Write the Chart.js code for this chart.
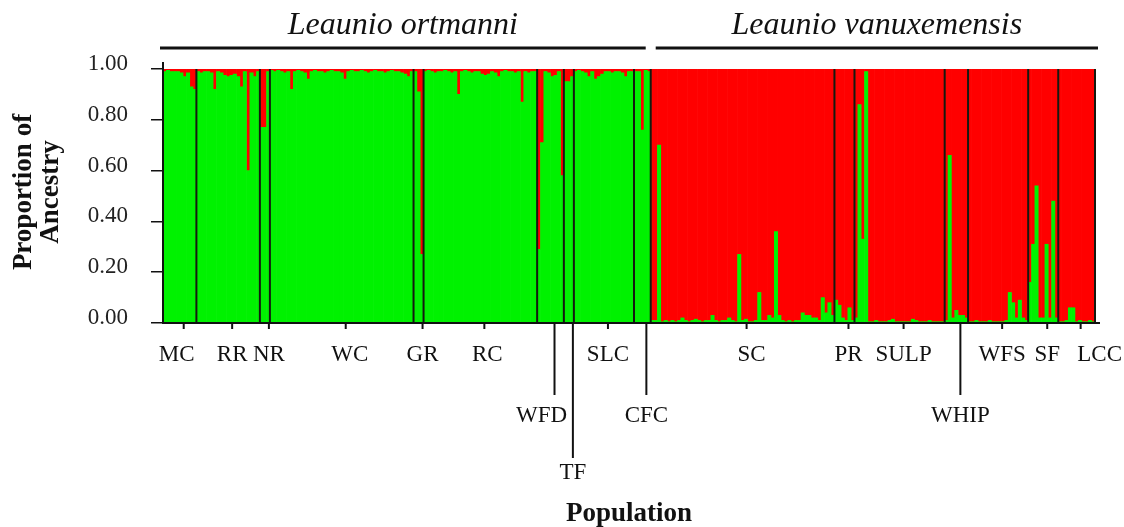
<!DOCTYPE html>
<html>
<head>
<meta charset="utf-8">
<script src="https://cdn.jsdelivr.net/npm/chart.js@4.4.1/dist/chart.umd.min.js"></script>
<style>
  html, body { margin: 0; padding: 0; background: #fff; }
  #wrap { width: 1124px; height: 527px; }
</style>
</head>
<body>
<div id="wrap"><canvas id="myChart" width="1124" height="527"></canvas></div>
<script>
// populations, left to right
const popNames = ["MC", "RR", "NR", "WC", "GR", "RC", "WFD", "TF", "SLC", "CFC",
                  "SC", "PR", "SULP", "WHIP", "WFS", "SF", "LCC"];

// proportion of ancestry in the green cluster, one value per individual
const mcGreen = [0.99, 0.995, 0.99, 0.99, 0.99, 0.985, 0.97, 0.985, 0.93, 0.92];
const rrGreen = [0.99, 0.985, 0.99, 0.99, 0.985, 0.92, 0.99, 0.985, 0.975, 0.97,
                 0.975, 0.98, 0.97, 0.93, 0.99, 0.60, 0.985, 0.97, 0.99];
const nrGreen = [0.77, 0.77, 0.99];
const wcGreen = [0.995, 0.99, 0.995, 0.99, 0.985, 0.99, 0.92, 0.99, 0.995, 0.99,
                 0.985, 0.96, 0.99, 0.995, 0.99, 0.99, 0.985, 0.99, 0.995, 0.99,
                 0.99, 0.985, 0.96, 0.99, 0.995, 0.99, 0.99, 0.995, 0.99, 0.985,
                 0.99, 0.995, 0.99, 0.99, 0.985, 0.99, 0.995, 0.99, 0.99, 0.985,
                 0.98, 0.97, 0.99];
const grGreen = [0.99, 0.91, 0.27];
const rcGreen = [0.99, 0.995, 0.99, 0.985, 0.99, 0.99, 0.995, 0.99, 0.985, 0.99,
                 0.90, 0.99, 0.995, 0.99, 0.985, 0.99, 0.99, 0.98, 0.975, 0.98,
                 0.99, 0.985, 0.97, 0.99, 0.995, 0.99, 0.99, 0.985, 0.99, 0.87,
                 0.99, 0.985, 0.99, 0.99];
const wfdGreen = [0.29, 0.71, 0.99, 0.985, 0.97, 0.975, 0.99, 0.58];
const tfGreen = [0.95, 0.95, 0.97];
const slcGreen = [0.99, 0.995, 0.99, 0.985, 0.97, 0.99, 0.96, 0.97, 0.98, 0.99,
                  0.99, 0.985, 0.99, 0.99, 0.985, 0.97, 0.99, 0.99];
const cfcGreen = [0.99, 0.99, 0.76, 0.995, 0.99];
const scGreen = [0.01, 0.01, 0.70, 0.005, 0.01, 0.005, 0.01, 0.005, 0.01, 0.02,
                 0.01, 0.005, 0.01, 0.015, 0.01, 0.005, 0.01, 0.01, 0.03, 0.01,
                 0.005, 0.01, 0.01, 0.02, 0.01, 0.005, 0.27, 0.01, 0.015, 0.005,
                 0.005, 0.01, 0.12, 0.01, 0.01, 0.03, 0.02, 0.36, 0.03, 0.01,
                 0.005, 0.01, 0.005, 0.01, 0.01, 0.04, 0.03, 0.03, 0.02, 0.02,
                 0.01, 0.10, 0.04, 0.08, 0.03];
const prGreen = [0.09, 0.07, 0.02, 0.01, 0.06, 0.01];
const sulpGreen = [0.02, 0.86, 0.33, 0.99, 0.005, 0.005, 0.01, 0.005, 0.005, 0.005,
                   0.01, 0.015, 0.005, 0.005, 0.005, 0.005, 0.005, 0.015, 0.01, 0.005,
                   0.005, 0.005, 0.01, 0.005, 0.005, 0.005, 0.005];
const whipGreen = [0.01, 0.66, 0.02, 0.05, 0.03, 0.03, 0.02];
const wfsGreen = [0.005, 0.005, 0.01, 0.005, 0.005, 0.005, 0.01, 0.005, 0.005, 0.005,
                  0.005, 0.01, 0.12, 0.08, 0.02, 0.09, 0.02, 0.01];
const sfGreen = [0.16, 0.31, 0.54, 0.02, 0.02, 0.31, 0.02, 0.48, 0.02];
const lccGreen = [0.005, 0.005, 0.01, 0.06, 0.06, 0.005, 0.01, 0.005, 0.005, 0.01, 0.005];

const popGreen = [mcGreen, rrGreen, nrGreen, wcGreen, grGreen, rcGreen, wfdGreen, tfGreen,
                  slcGreen, cfcGreen, scGreen, prGreen, sulpGreen, whipGreen, wfsGreen,
                  sfGreen, lccGreen];

// y axis tick labels
const yTicks = [0, 0.2, 0.4, 0.6, 0.8, 1.0];

// species groups: name, first and last population
const speciesNames = ["Leaunio ortmanni", "Leaunio vanuxemensis"];
const speciesFirst = ["MC", "SC"];
const speciesLast = ["CFC", "LCC"];

document.addEventListener("DOMContentLoaded", () => {
  const canvas = document.getElementById("myChart");
  const GREEN = "#00f200";
  const RED = "#ff0000";
  const INK = "#111";
  const SERIF = "'Liberation Serif', 'Times New Roman', serif";

  const green = popGreen.flat();
  const red = green.map(g => +(1 - g).toFixed(3));
  const labels = green.map((_, i) => String(i + 1));

  // cumulative start index of every population
  const starts = [];
  let acc = 0;
  popGreen.forEach(p => { starts.push(acc); acc += p.length; });

  // labels dropped to a lower row get a long tick
  const labelRow = { WFD: 1, CFC: 1, WHIP: 1, TF: 2 };
  const labelDx = { MC: -7, WFD: -13, LCC: 19, WC: 4, SC: 5, RC: 3 };

  const line = (ctx, x1, y1, x2, y2) => {
    ctx.beginPath(); ctx.moveTo(x1, y1); ctx.lineTo(x2, y2); ctx.stroke();
  };

  const structurePlugin = {
    id: "structure",
    afterDatasetsDraw(chart) {
      const { ctx, chartArea: a, scales: { x } } = chart;
      ctx.save();
      // population separators
      ctx.strokeStyle = "#141a10";
      ctx.lineWidth = 2;
      popGreen.forEach((p, i) => {
        const bx = x.getPixelForValue(starts[i] + p.length - 0.5);
        line(ctx, bx, a.top, bx, a.bottom);
      });
      // axes on top of the bars
      ctx.strokeStyle = INK;
      line(ctx, a.left, a.top - 7, a.left, a.bottom + 1);
      line(ctx, a.left - 1, a.bottom, a.right + 5, a.bottom);

      // population ticks and labels
      ctx.lineWidth = 2;
      ctx.fillStyle = INK;
      ctx.font = "23px " + SERIF;
      ctx.textAlign = "center";
      ctx.textBaseline = "alphabetic";
      const rowBase = [38, 99, 156];
      const rowTick = [6, 72, 135];
      popNames.forEach((name, i) => {
        const n = popGreen[i].length;
        const tx = x.getPixelForValue(starts[i] + n / 2 - 0.5 + 1.2);
        const row = labelRow[name] || 0;
        line(ctx, tx, a.bottom, tx, a.bottom + rowTick[row]);
        ctx.fillText(name, tx + (labelDx[name] || 0), a.bottom + rowBase[row]);
      });

      // species brackets
      ctx.font = "italic 32px " + SERIF;
      ctx.lineWidth = 3;
      speciesNames.forEach((name, k) => {
        const f = popNames.indexOf(speciesFirst[k]);
        const l = popNames.indexOf(speciesLast[k]);
        const x1 = k === 0 ? a.left - 3 : x.getPixelForValue(starts[f] - 0.5) + 5;
        const x2 = k === 0 ? x.getPixelForValue(starts[l] + popGreen[l].length - 0.5) - 5 : a.right + 3;
        line(ctx, x1, a.top - 21, x2, a.top - 21);
        ctx.fillText(name, (x1 + x2) / 2, a.top - 35);
      });

      // axis titles
      ctx.font = "bold 27px " + SERIF;
      ctx.fillText("Population", (a.left + a.right) / 2, 521);
      ctx.save();
      ctx.translate(31, (a.top + a.bottom) / 2 - 4);
      ctx.rotate(-Math.PI / 2);
      ctx.fillText("Proportion of", 0, 0);
      ctx.fillText("Ancestry", 0, 27);
      ctx.restore();
      ctx.restore();
    }
  };

  new Chart(canvas, {
    type: "bar",
    data: {
      labels,
      datasets: [
        { label: "green", data: green, backgroundColor: GREEN, borderWidth: 0,
          barPercentage: 1, categoryPercentage: 1 },
        { label: "red", data: red, backgroundColor: RED, borderWidth: 0,
          barPercentage: 1, categoryPercentage: 1 }
      ]
    },
    options: {
      responsive: false,
      animation: false,
      layout: { padding: { left: 0, right: 29, top: 69, bottom: 0 } },
      plugins: { legend: { display: false }, tooltip: { enabled: false } },
      scales: {
        x: {
          stacked: true,
          grid: { display: false },
          ticks: { display: false },
          border: { display: false },
          afterFit: (s) => { s.height = 204; }
        },
        y: {
          stacked: true,
          min: 0,
          max: 1,
          afterBuildTicks: (s) => { s.ticks = yTicks.map(v => ({ value: v })); },
          ticks: {
            callback: (v) => Number(v).toFixed(2),
            color: "#222",
            font: { family: SERIF, size: 23 },
            padding: 23,
            labelOffset: -5
          },
          grid: { drawOnChartArea: false, tickLength: 12, color: INK, lineWidth: 1.5 },
          border: { display: true, color: INK, width: 2 },
          afterFit: (s) => { s.width = 163; }
        }
      }
    },
    plugins: [structurePlugin]
  });
});
</script>
</body>
</html>
